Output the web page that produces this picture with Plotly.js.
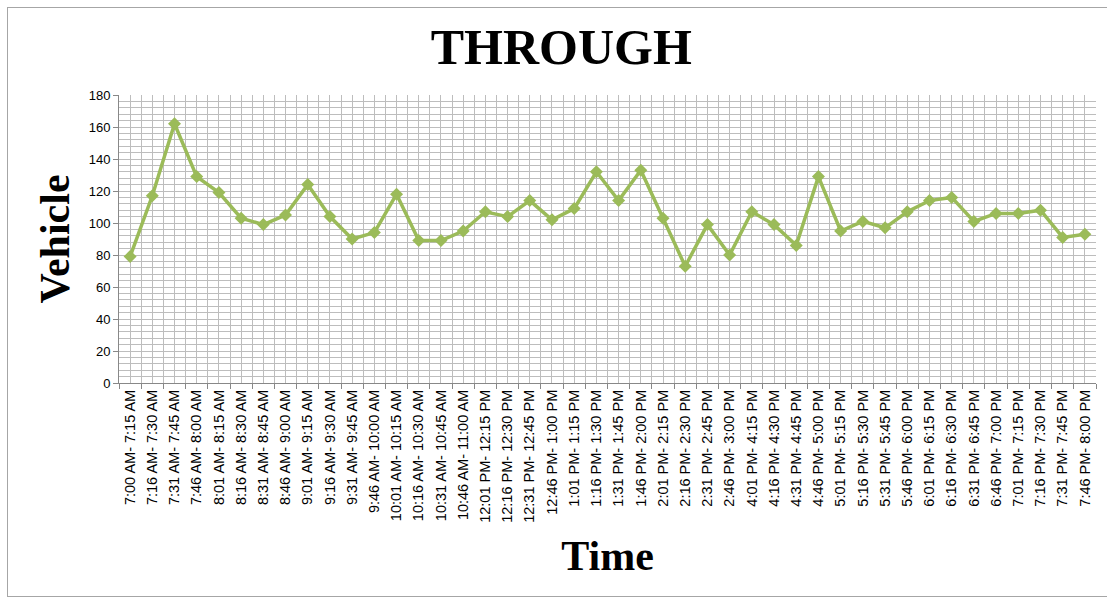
<!DOCTYPE html>
<html>
<head>
<meta charset="utf-8">
<script src="https://cdn.plot.ly/plotly-3.0.1.min.js"></script>
<style>
  html, body { margin: 0; padding: 0; background: #fff; }
  #chart { width: 1107px; height: 598px; }
  #frame { position: absolute; left: 7px; top: 7px; width: 1110px; height: 590px;
           border-left: 1px solid #a6a6a6; border-top: 1px solid #a6a6a6; border-bottom: 1px solid #a6a6a6;
           pointer-events: none; box-sizing: border-box; }
</style>
</head>
<body>
<div id="chart"></div>
<div id="frame"></div>
<script>
const categories = [
  "7:00 AM- 7:15 AM", "7:16 AM- 7:30 AM", "7:31 AM- 7:45 AM", "7:46 AM- 8:00 AM",
  "8:01 AM- 8:15 AM", "8:16 AM- 8:30 AM", "8:31 AM- 8:45 AM", "8:46 AM- 9:00 AM",
  "9:01 AM- 9:15 AM", "9:16 AM- 9:30 AM", "9:31 AM- 9:45 AM", "9:46 AM- 10:00 AM",
  "10:01 AM- 10:15 AM", "10:16 AM- 10:30 AM", "10:31 AM- 10:45 AM", "10:46 AM- 11:00 AM",
  "12:01 PM- 12:15 PM", "12:16 PM- 12:30 PM", "12:31 PM- 12:45 PM", "12:46 PM- 1:00 PM",
  "1:01 PM- 1:15 PM", "1:16 PM- 1:30 PM", "1:31 PM- 1:45 PM", "1:46 PM- 2:00 PM",
  "2:01 PM- 2:15 PM", "2:16 PM- 2:30 PM", "2:31 PM- 2:45 PM", "2:46 PM- 3:00 PM",
  "4:01 PM- 4:15 PM", "4:16 PM- 4:30 PM", "4:31 PM- 4:45 PM", "4:46 PM- 5:00 PM",
  "5:01 PM- 5:15 PM", "5:16 PM- 5:30 PM", "5:31 PM- 5:45 PM", "5:46 PM- 6:00 PM",
  "6:01 PM- 6:15 PM", "6:16 PM- 6:30 PM", "6:31 PM- 6:45 PM", "6:46 PM- 7:00 PM",
  "7:01 PM- 7:15 PM", "7:16 PM- 7:30 PM", "7:31 PM- 7:45 PM", "7:46 PM- 8:00 PM"
];
const throughVehicles = [
  79, 117, 162, 129, 119, 103, 99, 105, 124, 104, 90, 94,
  118, 89, 89, 95, 107, 104, 114, 102, 109, 132, 114, 133,
  103, 73, 99, 80, 107, 99, 86, 129, 95, 101, 97, 107,
  114, 116, 101, 106, 106, 108, 91, 93
];
const chartTitle = "THROUGH";
const xTitle = "Time";
const yTitle = "Vehicle";
const yTicks = [0, 20, 40, 60, 80, 100, 120, 140, 160, 180];

const gridColor = "#bdbdbd";
const traces = [
  {
    x: categories.map((_, i) => i),
    y: throughVehicles,
    xaxis: "x2", yaxis: "y",
    type: "scatter", mode: "lines",
    line: { color: "rgba(0,0,0,0)" },
    hoverinfo: "skip", showlegend: false
  },
  {
    x: categories,
    y: throughVehicles,
    type: "scatter",
    mode: "lines+markers",
    line: { color: "#9BBB59", width: 3.5 },
    marker: { symbol: "diamond", size: 10, color: "#9BBB59" },
    showlegend: false
  }
];

const layout = {
  width: 1107, height: 598,
  margin: { l: 119, r: 11, t: 95, b: 215 },
  paper_bgcolor: "#fff", plot_bgcolor: "#fff",
  title: {
    text: chartTitle,
    font: { family: "Liberation Serif, Times New Roman, serif", size: 50, color: "#000", weight: "bold" },
    xref: "container", x: 0.507, xanchor: "center",
    yref: "container", y: 0.922, yanchor: "middle"
  },
  xaxis: {
    type: "category",
    categoryorder: "array", categoryarray: categories,
    range: [-0.5, categories.length - 0.5],
    tickson: "boundaries",
    ticks: "outside", ticklen: 5, tickcolor: "#888",
    showgrid: true, gridcolor: gridColor, gridwidth: 1,
    showline: true, linecolor: "#888", linewidth: 1,
    tickangle: -90,
    tickfont: { family: "Liberation Sans, Arial, sans-serif", size: 14.5, color: "#000" },
    title: {
      text: xTitle,
      font: { family: "Liberation Serif, Times New Roman, serif", size: 42, color: "#000", weight: "bold" },
      standoff: 18
    },
    zeroline: false, fixedrange: true
  },
  xaxis2: {
    overlaying: "x", anchor: "y",
    range: [-0.5, categories.length - 0.5],
    tick0: 0, dtick: 1,
    showgrid: true, gridcolor: gridColor, gridwidth: 1,
    showticklabels: false, ticks: "", zeroline: false, showline: false,
    layer: "below traces"
  },
  yaxis: {
    range: [0, 180],
    tickvals: yTicks,
    ticks: "outside", ticklen: 5, tickcolor: "#888",
    showgrid: true, gridcolor: gridColor, gridwidth: 1,
    minor: { dtick: 4, showgrid: true, gridcolor: gridColor, gridwidth: 1, ticks: "" },
    showline: true, linecolor: "#888", linewidth: 1,
    tickfont: { family: "Liberation Sans, Arial, sans-serif", size: 13, color: "#000" },
    title: {
      text: yTitle,
      font: { family: "Liberation Serif, Times New Roman, serif", size: 42, color: "#000", weight: "bold" },
      standoff: 5
    },
    zeroline: false, fixedrange: true
  }
};

Plotly.newPlot("chart", traces, layout, { staticPlot: true, displayModeBar: false });
</script>
</body>
</html>
